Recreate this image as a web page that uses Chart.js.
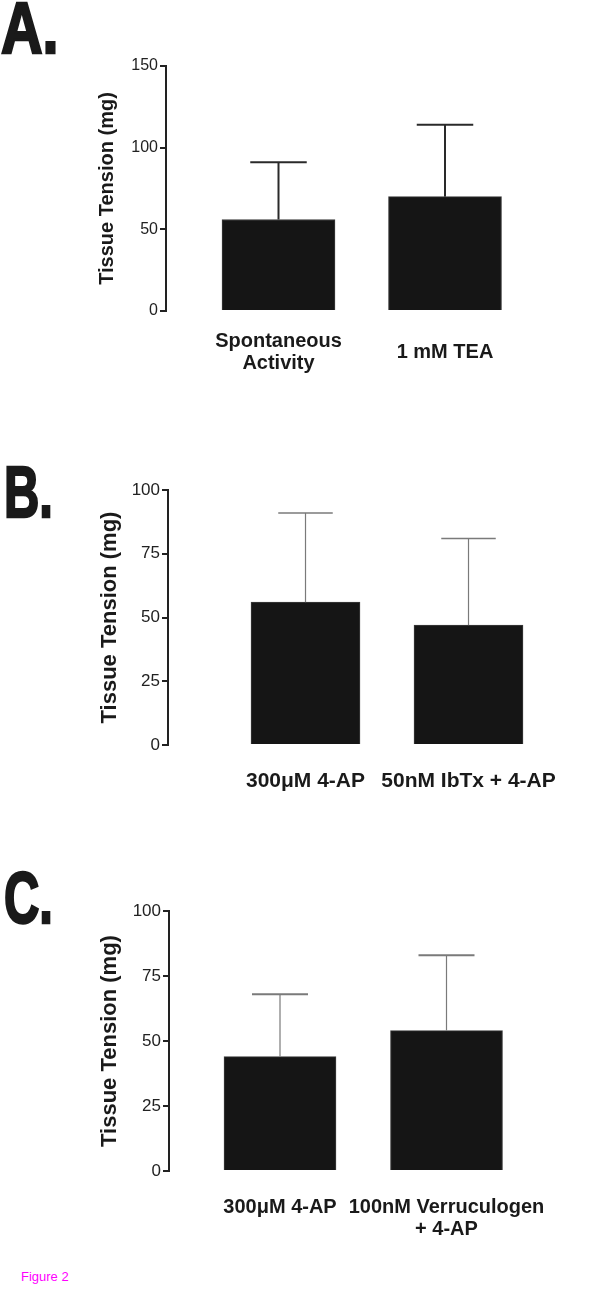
<!DOCTYPE html>
<html>
<head>
<meta charset="utf-8">
<script src="https://cdn.jsdelivr.net/npm/chart.js@4"></script>
<style>
  body { margin: 0; background: #fff; width: 600px; height: 1289px; position: relative; overflow: hidden; font-family: 'Liberation Sans', Arial, sans-serif; }
  .panel { position: absolute; left: 0; width: 600px; }
  .letter { position: absolute; font-weight: bold; font-size: 72px; line-height: 1; color: #1a1a1a; -webkit-text-stroke: 2.5px #1a1a1a; transform-origin: left top; }
  #fig { position: absolute; left: 21px; top: 1269px; font-size: 13px; color: #f0f; }
</style>
</head>
<body>
<div class="letter" style="left:1px;top:-8px;transform:scaleX(0.8)">A.</div>
<div class="letter" style="left:4px;top:456px;transform:scaleX(0.68)">B.</div>
<div class="letter" style="left:4px;top:862px;transform:scaleX(0.68)">C.</div>

<div class="panel" style="top:40px"><canvas id="chartA" width="600" height="360"></canvas></div>
<div class="panel" style="top:440px"><canvas id="chartB" width="600" height="380"></canvas></div>
<div class="panel" style="top:860px"><canvas id="chartC" width="600" height="390"></canvas></div>

<div id="fig">Figure 2</div>

<script>
// Panel A
const labelsA = [['Spontaneous', 'Activity'], '1 mM TEA'];
const meanA = [56, 70];
const semA = [35, 44];
const yTicksA = [0, 50, 100, 150];

// Panel B
const labelsB = ['300\u03bcM 4-AP', '50nM IbTx + 4-AP'];
const meanB = [56, 47];
const semB = [35, 34];
const yTicksB = [0, 25, 50, 75, 100];

// Panel C
const labelsC = ['300\u03bcM 4-AP', ['100nM Verruculogen', '+ 4-AP']];
const meanC = [44, 54];
const semC = [24, 29];
const yTicksC = [0, 25, 50, 75, 100];

Chart.defaults.font.family = "'Liberation Sans', Arial, sans-serif";

// upper error bar with a cap half as wide as the bar
const errorBars = {
  id: 'errorBars',
  afterDatasetsDraw(chart, args, opts) {
    const ctx = chart.ctx;
    const y = chart.scales.y;
    const points = chart.data.datasets[0].data;
    ctx.save();
    ctx.strokeStyle = opts.color;
    chart.getDatasetMeta(0).data.forEach((bar, i) => {
      const top = y.getPixelForValue(points[i].y + opts.err[i]);
      const half = bar.width / 4;
      ctx.lineWidth = opts.lineWidth;
      ctx.beginPath();
      ctx.moveTo(bar.x, bar.y);
      ctx.lineTo(bar.x, top);
      ctx.stroke();
      ctx.lineWidth = opts.capWidth;
      ctx.beginPath();
      ctx.moveTo(bar.x - half, top);
      ctx.lineTo(bar.x + half, top);
      ctx.stroke();
    });
    ctx.restore();
  }
};

function drawPanel(id, p) {
  return new Chart(document.getElementById(id), {
    type: 'bar',
    data: {
      datasets: [{
        data: p.means.map((v, i) => ({ x: i + 1, y: v })),
        backgroundColor: '#151515',
        borderColor: '#3c3c3c',
        borderWidth: 1,
        barThickness: p.barW
      }]
    },
    options: {
      responsive: false,
      animation: false,
      layout: { padding: { top: p.padTop, right: 40, left: 0, bottom: 0 } },
      plugins: {
        legend: { display: false },
        tooltip: { enabled: false },
        errorBars: { err: p.sem, color: p.errColor, lineWidth: p.errWidth, capWidth: p.capWidth }
      },
      scales: {
        x: {
          type: 'linear',
          min: p.xMin,
          max: p.xMax,
          offset: false,
          afterBuildTicks: s => { s.ticks = p.labels.map((_, i) => ({ value: i + 1 })); },
          afterFit: s => { s.height = p.xAxisH; },
          grid: { display: false, drawTicks: false },
          border: { display: false },
          ticks: {
            autoSkip: false,
            maxRotation: 0,
            padding: p.xPad,
            crossAlign: p.crossAlign,
            color: '#1a1a1a',
            font: { size: p.xFont, weight: 'bold', lineHeight: 1.1 },
            callback: v => p.labels[v - 1]
          }
        },
        y: {
          min: p.yTicks[0],
          max: p.yTicks[p.yTicks.length - 1],
          afterFit: s => { s.width = p.yAxisW; },
          grid: { drawOnChartArea: false, color: '#222', lineWidth: 2, tickLength: p.tickLen },
          border: { color: '#222', width: 2 },
          ticks: {
            stepSize: p.yTicks[1] - p.yTicks[0],
            padding: 2,
            color: '#222',
            font: { size: p.yFont }
          },
          title: {
            display: true,
            text: 'Tissue Tension (mg)',
            color: '#1a1a1a',
            font: { size: p.titleFont, weight: 'bold' },
            padding: { top: p.titleOffset, bottom: 0 }
          }
        }
      }
    },
    plugins: [errorBars]
  });
}

drawPanel('chartA', {
  labels: labelsA, means: meanA, sem: semA, yTicks: yTicksA,
  padTop: 26, xAxisH: 89, yAxisW: 166, xMin: 0.3243, xMax: 2.6907, barW: 113,
  xPad: 30, crossAlign: 'center', xFont: 20, yFont: 16, tickLen: 6,
  titleFont: 20, titleOffset: 95, errColor: '#2a2a2a', errWidth: 2, capWidth: 2
});

drawPanel('chartB', {
  labels: labelsB, means: meanB, sem: semB, yTicks: yTicksB,
  padTop: 50, xAxisH: 75, yAxisW: 168, xMin: 0.1564, xMax: 2.5613, barW: 109,
  xPad: 25, crossAlign: 'near', xFont: 21, yFont: 17, tickLen: 6,
  titleFont: 22, titleOffset: 97, errColor: '#7a7a7a', errWidth: 1.2, capWidth: 1.5
});

drawPanel('chartC', {
  labels: labelsC, means: meanC, sem: semC, yTicks: yTicksC,
  padTop: 51, xAxisH: 79, yAxisW: 169, xMin: 0.3333, xMax: 2.6817, barW: 112,
  xPad: 25, crossAlign: 'near', xFont: 20, yFont: 17, tickLen: 6,
  titleFont: 22, titleOffset: 97, errColor: '#7a7a7a', errWidth: 1.2, capWidth: 2
});
</script>
</body>
</html>
